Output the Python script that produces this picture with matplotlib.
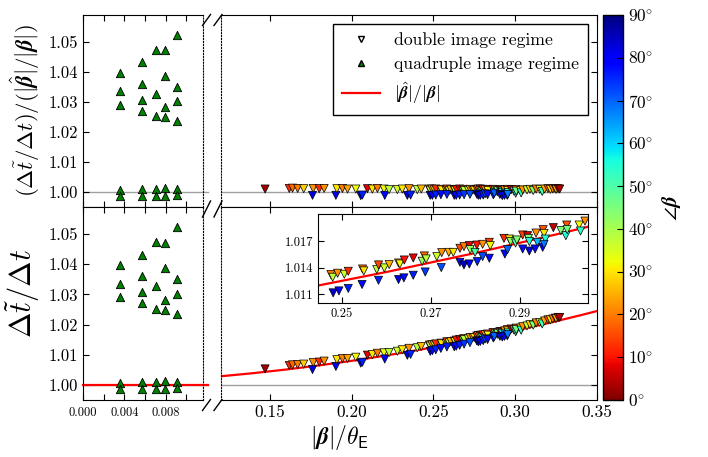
import matplotlib
matplotlib.use("Agg")
import matplotlib.pyplot as plt
from matplotlib.lines import Line2D

plt.rcParams["font.family"] = "serif"
plt.rcParams["font.serif"] = ["cmr10"]
plt.rcParams["mathtext.fontset"] = "cm"
plt.rcParams["axes.unicode_minus"] = False

# quadruple image regime (same values in both panels)
x_quad = [0.00357, 0.00357, 0.00357, 0.00357, 0.00357,
          0.00566, 0.00566, 0.00566, 0.00566, 0.00566, 0.00566,
          0.0071, 0.0071, 0.0071, 0.0071, 0.0071,
          0.00797, 0.00797, 0.00797, 0.00797, 0.00797, 0.00797,
          0.00909, 0.00909, 0.00909, 0.00909, 0.00909, 0.00909]
dt_quad = [1.0397, 1.0336, 1.0290, 1.0008, 0.9988,
           1.0432, 1.0360, 1.0308, 1.0271, 1.0010, 0.9988,
           1.0474, 1.0328, 1.0252, 1.0010, 0.9988,
           1.0472, 1.0387, 1.0283, 1.0250, 1.0013, 0.9988,
           1.0524, 1.0350, 1.0302, 1.0236, 1.0011, 0.9990]

# double image regime
x_dbl = [0.1470, 0.1618, 0.1638, 0.1669, 0.1706, 0.1760, 0.1764, 0.1801, 0.1831, 0.1903,
         0.1909, 0.1943, 0.1974, 0.2025, 0.2055, 0.2065, 0.2096, 0.2126, 0.2157, 0.2197,
         0.2202, 0.2228, 0.2279, 0.2309, 0.2340, 0.2350, 0.2360, 0.2401, 0.2425,
         0.2475, 0.2479, 0.2490, 0.2505, 0.2514, 0.2546, 0.2549, 0.2578, 0.2582, 0.2595,
         0.2606, 0.2627, 0.2630, 0.2640, 0.2660, 0.2680, 0.2685, 0.2689, 0.2713, 0.2724,
         0.2740, 0.2750,
         0.2480, 0.2493, 0.2514, 0.2545, 0.2582, 0.2627, 0.2639, 0.2660, 0.2687, 0.2723,
         0.2765, 0.2774, 0.2786, 0.2788, 0.2799, 0.2803, 0.2816, 0.2831, 0.2833, 0.2864,
         0.2876, 0.2879, 0.2890, 0.2893, 0.2906, 0.2917, 0.2919, 0.2921, 0.2936, 0.2939,
         0.2952, 0.2954, 0.2957, 0.2975, 0.2992, 0.3003, 0.3005, 0.3006, 0.3033, 0.3036,
         0.3046,
         0.2765, 0.2774, 0.2786, 0.2804, 0.2816, 0.2831, 0.2866, 0.2872, 0.2906, 0.2921,
         0.2934, 0.2951, 0.2954,
         0.3072, 0.3090, 0.3110, 0.3128, 0.3150, 0.3165, 0.3180, 0.3200, 0.3215, 0.3230,
         0.3245, 0.3250, 0.3262, 0.3272]
ang_dbl = [3, 12, 18, 20, 28, 82, 22, 12, 22, 80,
           30, 20, 24, 32, 85, 76, 8, 30, 20, 32,
           80, 38, 36, 30, 82, 22, 76, 38, 26,
           20, 38, 22, 36, 12, 18, 30, 38, 15, 36,
           25, 22, 32, 10, 8, 42, 18, 38, 36, 22,
           25, 30,
           84, 80, 76, 78, 76, 82, 78, 76, 74, 72,
           15, 20, 8, 42, 50, 10, 22, 14, 32, 12,
           30, 42, 50, 44, 14, 6, 45, 55, 22, 62,
           16, 30, 55, 5, 44, 55, 16, 46, 32, 54,
           22,
           78, 85, 80, 76, 72, 78, 78, 70, 78, 82,
           78, 80, 68,
           36, 28, 44, 20, 34, 52, 24, 16, 30, 20,
           12, 26, 8, 4]
dt_dbl = [1.00532, 1.00644, 1.00667, 1.00677, 1.00692, 1.00510, 1.00742, 1.00759, 1.00791, 1.00614,
          1.00839, 1.00875, 1.00879, 1.00920, 1.00725, 1.00753, 1.00989, 1.01004, 1.01051, 1.01065,
          1.00860, 1.01073, 1.01119, 1.01166, 1.00985, 1.01215, 1.01014, 1.01233, 1.01276,
          1.01323, 1.01292, 1.01338, 1.01326, 1.01360, 1.01386, 1.01364, 1.01380, 1.01432, 1.01398,
          1.01436, 1.01454, 1.01443, 1.01488, 1.01511, 1.01474, 1.01534, 1.01500, 1.01527, 1.01572,
          1.01575, 1.01575,
          1.01115, 1.01137, 1.01165, 1.01210, 1.01258, 1.01266, 1.01285, 1.01315, 1.01352, 1.01402,
          1.01621, 1.01640, 1.01651, 1.01606, 1.01575, 1.01658, 1.01666, 1.01689, 1.01651, 1.01734,
          1.01726, 1.01697, 1.01681, 1.01715, 1.01772, 1.01764, 1.01734, 1.01697, 1.01794, 1.01689,
          1.01832, 1.01790, 1.01726, 1.01855, 1.01821, 1.01764, 1.01885, 1.01832, 1.01885, 1.01817,
          1.01930,
          1.01462, 1.01432, 1.01443, 1.01470, 1.01527, 1.01508, 1.01556, 1.01606, 1.01613, 1.01590,
          1.01613, 1.01632, 1.01666,
          1.01957, 1.02000, 1.01984, 1.02057, 1.02075, 1.02023, 1.02122, 1.02158, 1.02157, 1.02187,
          1.02216, 1.02202, 1.02238, 1.02241]
ratio_dbl = [1.0010, 1.0012, 1.0013, 1.0012, 1.0011, 0.9989, 1.0012, 1.0011, 1.0012, 0.9989,
             1.0011, 1.0012, 1.0010, 1.0010, 0.9988, 0.9990, 1.0011, 1.0010, 1.0012, 1.0010,
             0.9989, 1.0008, 1.0008, 1.0010, 0.9989, 1.0011, 0.9990, 1.0008, 1.0010,
             1.0010, 1.0006, 1.0010, 1.0007, 1.0010, 1.0009, 1.0007, 1.0005, 1.0010, 1.0005,
             1.0008, 1.0007, 1.0006, 1.0009, 1.0010, 1.0004, 1.0009, 1.0005, 1.0006, 1.0009,
             1.0007, 1.0006,
             0.9989, 0.9989, 0.9990, 0.9991, 0.9992, 0.9989, 0.9989, 0.9990, 0.9991, 0.9992,
             1.0009, 1.0010, 1.0010, 1.0005, 1.0001, 1.0009, 1.0008, 1.0009, 1.0005, 1.0009,
             1.0007, 1.0004, 1.0001, 1.0004, 1.0008, 1.0006, 1.0003, 0.9999, 1.0007, 0.9996,
             1.0009, 1.0005, 0.9998, 1.0008, 1.0003, 0.9996, 1.0008, 1.0003, 1.0005, 0.9997,
             1.0007,
             0.9993, 0.9989, 0.9989, 0.9990, 0.9994, 0.9991, 0.9991, 0.9996, 0.9992, 0.9988,
             0.9989, 0.9989, 0.9992,
             1.0007, 1.0009, 1.0005, 1.0010, 1.0009, 1.0002, 1.0010, 1.0011, 1.0009, 1.0010,
             1.0011, 1.0009, 1.0011, 1.0010]

# |beta_hat|/|beta| curve
red_x = [0.12, 0.14, 0.16, 0.18, 0.20, 0.22, 0.24, 0.26, 0.28, 0.30, 0.32, 0.34, 0.35]
red_y = [1.00288, 1.00392, 1.00512, 1.00648, 1.00800, 1.00968, 1.01152, 1.01352,
         1.01568, 1.01800, 1.02048, 1.02312, 1.02450]
red_x_small = [0.0, 0.0121]
red_y_small = [1.0, 1.0]

yticks = [1.00, 1.01, 1.02, 1.03, 1.04, 1.05]
ytick_labels = ["1.00", "1.01", "1.02", "1.03", "1.04", "1.05"]
xticks_small = [0.0, 0.002, 0.004, 0.006, 0.008, 0.010]
xticks_small_labels = ["0.000", "", "0.004", "", "0.008", ""]
xticks_big = [0.15, 0.20, 0.25, 0.30, 0.35]
xticks_big_labels = ["0.15", "0.20", "0.25", "0.30", "0.35"]
cbar_ticks = [0, 10, 20, 30, 40, 50, 60, 70, 80, 90]

W, H = 708, 457
fig = plt.figure(figsize=(W / 100, H / 100), dpi=100)

axTL = fig.add_axes([0.1172, 0.5470, 0.1695, 0.4201])
axTR = fig.add_axes([0.3121, 0.5470, 0.5311, 0.4201])
axBL = fig.add_axes([0.1172, 0.1247, 0.1695, 0.4223])
axBR = fig.add_axes([0.3121, 0.1247, 0.5311, 0.4223])
cax = fig.add_axes([0.8517, 0.1247, 0.0282, 0.8425])
axIn = fig.add_axes([0.4492, 0.3370, 0.3814, 0.1947])

ylim = (0.995, 1.059)
mk = dict(cmap="jet_r", vmin=0, vmax=90, marker="v", s=34,
          edgecolors="black", linewidths=0.5, zorder=3)
qk = dict(marker="^", s=36, color="green", edgecolors="black", linewidths=0.6, zorder=3)

for ax in (axTL, axBL):
    ax.set_xlim(0, 0.0116)
    ax.set_ylim(*ylim)
    ax.plot([0, 0.0121], [1, 1], color="#a0a0a0", lw=1, zorder=1, clip_on=False)
    ax.scatter(x_quad, dt_quad, **qk)
    ax.spines["right"].set_linestyle(":")
    ax.set_xticks(xticks_small)
    ax.set_xticklabels(xticks_small_labels)
    ax.set_yticks(yticks)
    ax.set_yticklabels(ytick_labels)
    ax.tick_params(direction="in", length=4, top=True, right=False,
                   labelsize=12)
    ax.tick_params(axis="x", labelsize=9, pad=5)

for ax in (axTR, axBR):
    ax.set_xlim(0.12, 0.35)
    ax.set_ylim(*ylim)
    ax.axhline(1.0, color="#a0a0a0", lw=1, zorder=1)
    ax.spines["left"].set_linestyle(":")
    ax.set_xticks(xticks_big)
    ax.set_xticklabels(xticks_big_labels)
    ax.set_yticks(yticks)
    ax.yaxis.tick_right()
    ax.tick_params(direction="in", length=4, top=True, left=False,
                   labelright=False, labelsize=12.5)

axTL.tick_params(labelbottom=False)
axTR.tick_params(labelbottom=False)

sc = axTR.scatter(x_dbl, ratio_dbl, c=ang_dbl, **mk)
axBR.scatter(x_dbl, dt_dbl, c=ang_dbl, **mk)
axBR.plot(red_x, red_y, color="red", lw=1.6, zorder=2)
axBL.plot(red_x_small, red_y_small, color="red", lw=1.6, zorder=2, clip_on=False)

# inset
axIn.scatter(x_dbl, dt_dbl, c=ang_dbl, **mk)
axIn.plot(red_x, red_y, color="red", lw=1.6, zorder=2)
axIn.set_xlim(0.2446, 0.3053)
axIn.set_ylim(1.0100, 1.0201)
axIn.set_xticks([0.25, 0.27, 0.29])
axIn.set_xticklabels(["0.25", "0.27", "0.29"])
axIn.set_yticks([1.011, 1.014, 1.017])
axIn.set_yticklabels(["1.011", "1.014", "1.017"])
axIn.tick_params(direction="in", length=4, top=True, right=True, labelsize=9)

# labels
axTL.set_ylabel(r"$(\Delta\tilde{t}/\Delta t)/(|\hat{\boldsymbol{\beta}}|/|\boldsymbol{\beta}|)$",
                fontsize=16.5)
axTL.yaxis.set_label_coords(-0.34, 0.5)
axBL.set_ylabel(r"$\Delta\tilde{t}/\Delta t$", fontsize=22)
axBL.yaxis.set_label_coords(-0.34, 0.55)
fig.text(0.480, 0.042, r"$|\boldsymbol{\beta}|/\theta_{\mathsf{E}}$",
         ha="center", va="center", fontsize=17)

# legend
handles = [Line2D([], [], marker="v", ls="none", mfc="white", mec="black", ms=5),
           Line2D([], [], marker="^", ls="none", mfc="green", mec="black", ms=5),
           Line2D([], [], color="red", lw=1.6)]
labels = ["double image regime", "quadruple image regime",
          r"$|\hat{\boldsymbol{\beta}}|/|\boldsymbol{\beta}|$"]
leg = axTR.legend(handles, labels, loc="upper right", fontsize=12.7, fancybox=False,
                  framealpha=1, edgecolor="black", handlelength=2.15,
                  handletextpad=0.8, labelspacing=0.45, borderpad=0.5,
                  borderaxespad=0.5)
leg.get_frame().set_linewidth(1)

# colorbar
cb = fig.colorbar(sc, cax=cax, ticks=cbar_ticks)
cb.ax.set_yticklabels([r"$%d\!^\circ$" % t for t in cbar_ticks])
cb.ax.tick_params(direction="in", length=4, labelsize=12.5)
cb.outline.set_linewidth(1)
cb.set_label(r"$\angle\boldsymbol{\beta}$", fontsize=15, labelpad=5)

# axis break marks
def slash(cx, cy, dy):
    fig.add_artist(Line2D([(cx - 4) / W, (cx + 4) / W],
                          [(H - cy - dy) / H, (H - cy + dy) / H],
                          color="black", lw=1))

for cx in (206.5, 218):
    slash(cx, 20, 5.5)
    slash(cx, 209, 8)
    slash(cx, 405, 5.5)

fig.savefig("out.png", dpi=100)
